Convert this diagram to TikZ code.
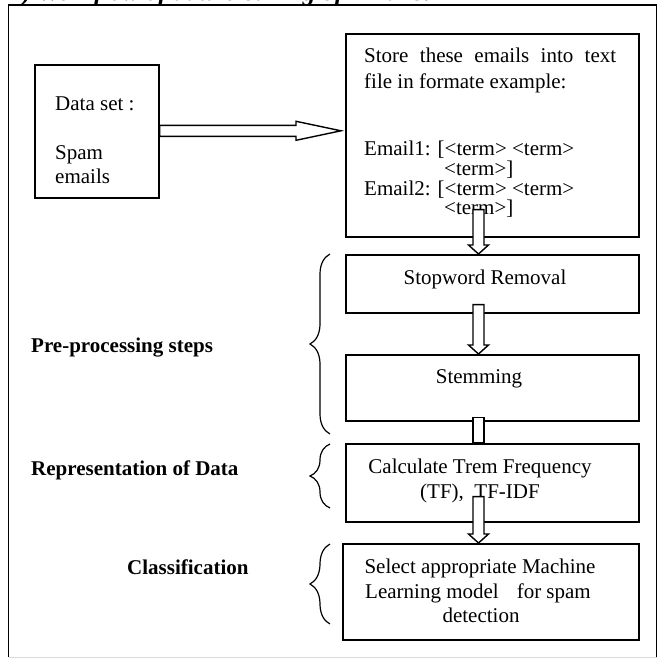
\documentclass[tikz,border=0pt]{standalone}
\usepackage{fontspec}
\setmainfont{Liberation Serif}
\usetikzlibrary{calc,decorations.pathreplacing}
\newcommand\vdarrow[2]{\draw[arrowbox] let \p1=#1, \p2=#2 in
  (\x1-5.5pt,\y1) -- (\x1-5.5pt,\y2+9pt) -- (\x1-10pt,\y2+9pt) -- (\x1,\y2)
  -- (\x1+10pt,\y2+9pt) -- (\x1+5.5pt,\y2+9pt) -- (\x1+5.5pt,\y1) -- cycle;}
\begin{document}
\begin{tikzpicture}[x=1pt,y=-1pt,
  box/.style={draw,line width=1.6pt,rectangle,inner sep=0pt,anchor=north west},
  txt/.style={inner sep=0pt,anchor=base west,font=\fontsize{21}{24}\selectfont},
  ctxt/.style={inner sep=0pt,anchor=base,font=\fontsize{21}{24}\selectfont},
  lbl/.style={inner sep=0pt,anchor=base west,font=\fontsize{21}{24}\selectfont\bfseries},
  arrowbox/.style={draw,fill=white,line width=1.4pt,line join=miter},
  bracestyle/.style={decorate,decoration={brace,amplitude=20pt},line width=1.2pt}]
\useasboundingbox (0,0) rectangle (662,659);
\fill[white] (0,0) rectangle (662,659);
% cut-off title
\node[anchor=base west,inner sep=0pt,font=\fontsize{25.5}{28}\selectfont\bfseries\itshape] (title) at (10,0.8) {2) Workflow of data cleaning of Emails:};
% frame
\draw[line width=1.8pt] (8.5,657) -- (8.5,5) -- (656.5,5) -- (656.5,657);
\draw[black!15,line width=1pt] (8.5,657.5) -- (656.5,657.5);
% boxes
\node[box,minimum width=124pt,minimum height=133pt] (data) at (34,64) {};
\node[box,minimum width=293pt,minimum height=203pt] (store) at (345,33) {};
\node[box,minimum width=293pt,minimum height=58pt] (stop) at (345,254) {};
\node[box,minimum width=293pt,minimum height=66pt] (stem) at (345,354) {};
\node[box,minimum width=293pt,minimum height=78pt] (calc) at (345,443) {};
\node[box,minimum width=296pt,minimum height=96pt] (cls) at (342,543) {};
% texts
\node[txt] (d1) at (55,110) {Data set :};
\node[txt] (d2) at (55,159) {Spam};
\node[txt] (d3) at (55,183) {emails};
\node[txt] (s1) at (364,62) {\makebox[252pt][s]{Store these emails into text}};
\node[txt] (s2) at (364,88) {file in formate example:};
\node[txt] (s3) at (364,155) {Email1: [<term> <term>};
\node[txt] (s4) at (444,175) {<term>]};
\node[txt] (s5) at (364,195) {Email2: [<term> <term>};
\node[txt] (s6) at (444,214) {<term>]};
\node[ctxt] (t1) at (485,284) {Stopword Removal};
\node[ctxt] (t2) at (479,383) {Stemming};
\node[ctxt] (t3) at (480,473) {Calculate Trem Frequency};
\node[ctxt] (t4) at (480,498) {(TF),\ \ TF-IDF};
\node[ctxt] (t5) at (480,573) {Select appropriate Machine};
\node[ctxt] (t6) at (478,598) {Learning model\hspace{18pt}for spam};
\node[ctxt] (t7) at (481,622) {detection};
\node[lbl] (l1) at (31,352) {Pre-processing steps};
\node[lbl] (l2) at (31,475) {Representation of Data};
\node[lbl] (l3) at (127,574) {Classification};
% braces
\draw[bracestyle] (330,434) -- (330,254);
\draw[bracestyle] (330,508) -- (330,444);
\draw[bracestyle] (330,624) -- (330,544);
% arrows
\coordinate (ax) at (478.5,0);
\draw[arrowbox] let \p1=($(data.east)+(0,-0.5)$), \p2=($(store.west |- data.east)+(-4,-0.5)$) in
  (\x1,\y1+5.5pt) -- (\x2-45pt,\y1+5.5pt) -- (\x2-45pt,\y1+9.5pt) -- (\x2,\y1)
  -- (\x2-45pt,\y1-9.5pt) -- (\x2-45pt,\y1-5.5pt) -- (\x1,\y1-5.5pt) -- cycle;
\vdarrow{($(ax|-store.south)+(0,-28)$)}{(ax|-stop.north)}
\vdarrow{($(ax|-stop.south)+(0,-9)$)}{(ax|-stem.north)}
\draw[arrowbox] let \p1=($(ax|-stem.south)+(0,-4)$), \p2=(ax|-calc.north) in
  (\x1-5.5pt,\y1) rectangle (\x2+5.5pt,\y2);
\vdarrow{($(ax|-calc.south)+(0,-26)$)}{(ax|-cls.north)}
\end{tikzpicture}
\end{document}
